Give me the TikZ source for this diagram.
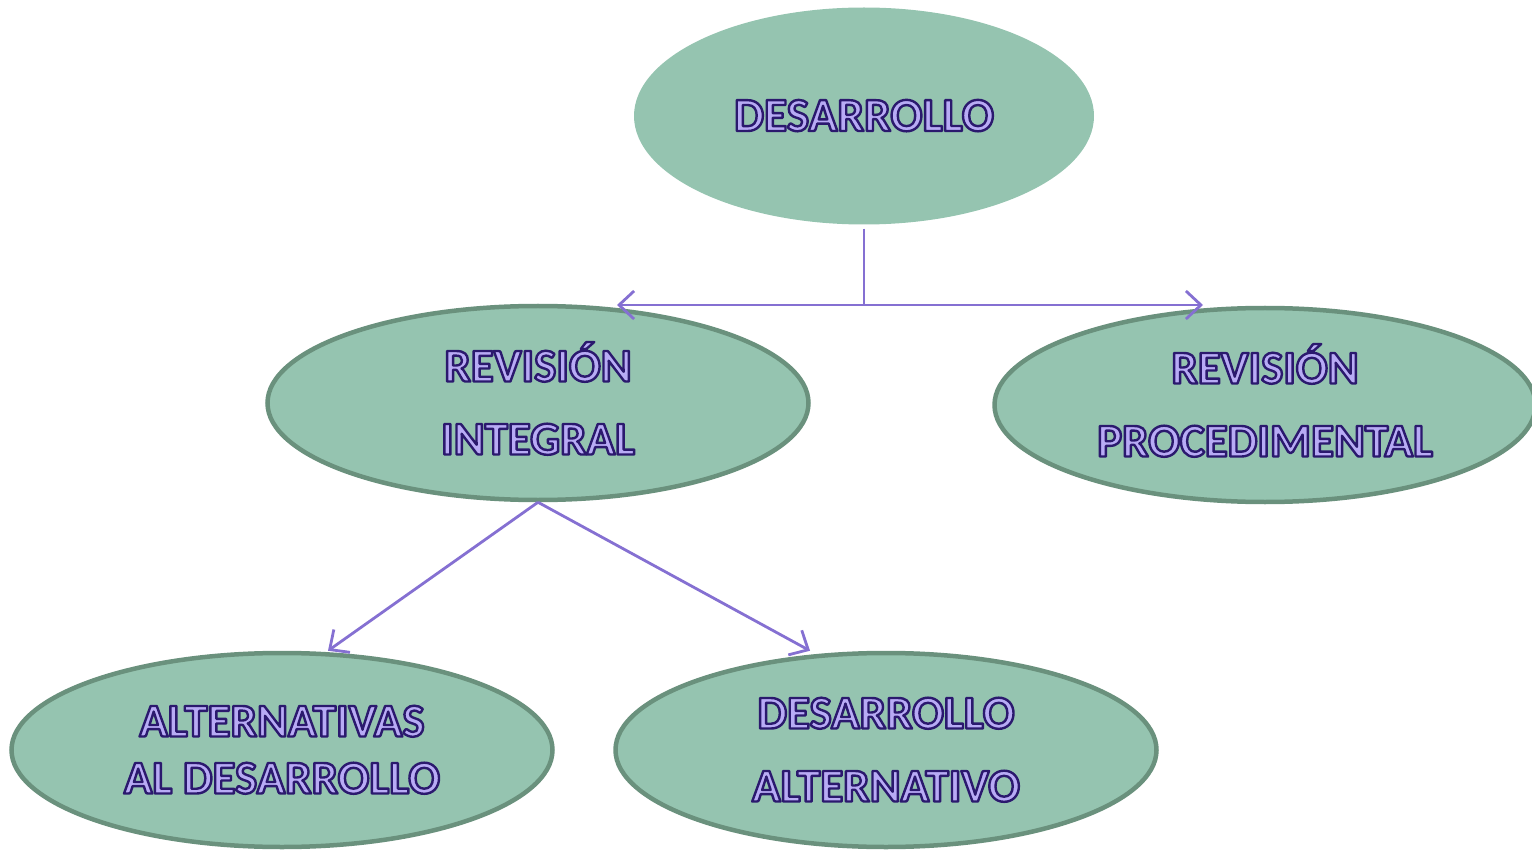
\documentclass[tikz,border=0pt]{standalone}
\usepackage{fontspec}
\setmainfont{Carlito}
\usetikzlibrary{arrows.meta,shapes.geometric}
\definecolor{ellfill}{HTML}{95C4B0}
\definecolor{ellline}{HTML}{6A917D}
\definecolor{conn}{HTML}{8570D2}
\newcommand\otext[1]{\special{pdf:literal direct 0.17 0.10 0.43 RG 0.72 0.67 0.96 rg 2 Tr 2.4 w 1 j}#1\special{pdf:literal direct 0 Tr}}
\tikzset{
  ell/.style={ellipse, fill=ellfill, draw=ellline, line width=4.5pt,
    minimum width=541pt, minimum height=194pt, inner sep=0pt,
    align=center, text depth=0pt},
  twoline/.style={font=\bfseries\fontsize{47}{73}\selectfont, text height=103pt},
  conline/.style={draw=conn, line width=2.8pt},
  arr/.style={conline, -{Straight Barb[length=15pt,width=28pt,line width=2.8pt]}}
}
\begin{document}
\begin{tikzpicture}[x=1pt,y=-1pt]
\useasboundingbox (0,0) rectangle (1532,850);
\node[ellipse, fill=ellfill, minimum width=460pt, minimum height=217pt, inner sep=0pt,
  font=\bfseries\fontsize{47.5}{56}\selectfont, text height=30pt, text depth=0pt] (d) at (864,116) {\otext{DESARROLLO}};
\node[ell, twoline] (ri) at (538,403) {\otext{REVISIÓN}\\\otext{INTEGRAL}};
\node[ell, twoline] (rp) at (1265,405) {\otext{REVISIÓN}\\\otext{PROCEDIMENTAL}};
\node[ell, font=\bfseries\fontsize{47}{57}\selectfont, text height=87pt] (al) at (282,750) {\otext{ALTERNATIVAS}\\\otext{AL DESARROLLO}};
\node[ell, twoline] (da) at (886,750) {\otext{DESARROLLO}\\\otext{ALTERNATIVO}};
\coordinate (j) at (864,305);
\coordinate (jl) at (617,305);
\coordinate (jr) at (1203,305);
\draw[conline] ([yshift=-4pt]d.south) -- (j);
\draw[arr] (j) -- (jl);
\draw[arr] (j) -- (jr);
\draw[arr] (ri.south) -- ([xshift=46pt]al.north);
\draw[arr] (ri.south) -- ([xshift=-76pt]da.north);
\end{tikzpicture}
\end{document}
